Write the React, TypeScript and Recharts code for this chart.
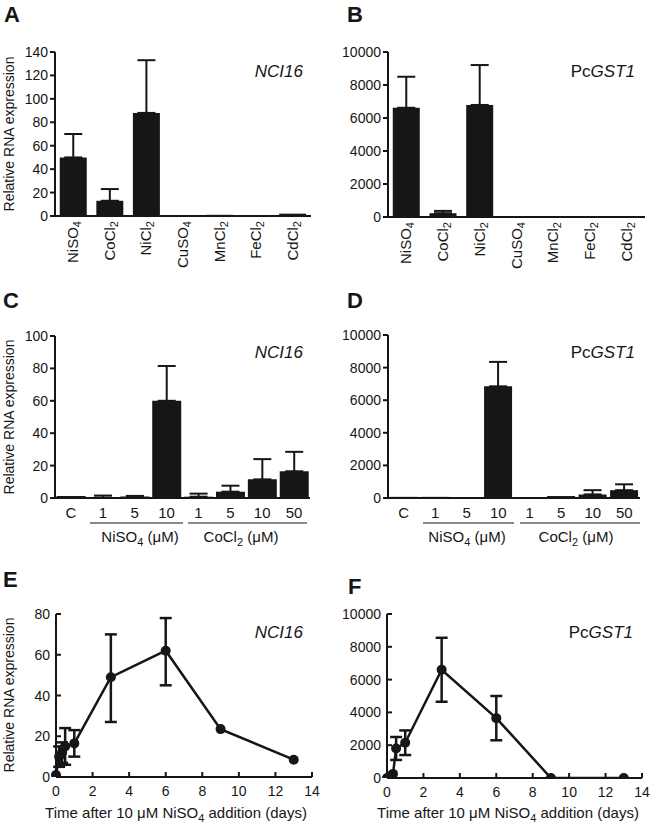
import React from 'react';
import { BarChart, Bar, LineChart, Line, XAxis, YAxis, ErrorBar } from 'recharts';

const FONT = '"Liberation Sans", Arial, Helvetica, sans-serif';
const INK = '#161616';
const AXIS = { stroke: INK, strokeWidth: 2 };

// A / B: metal salts
const metals = ['NiSO4', 'CoCl2', 'NiCl2', 'CuSO4', 'MnCl2', 'FeCl2', 'CdCl2'];
const metalNci16 = [50, 13, 88, 0.6, 1, 0.6, 2];
const metalNci16Up = [20, 10, 45, null, null, null, null];
const metalGst1 = [6620, 230, 6790, 0, 0, 0, 0];
const metalGst1Up = [1880, 140, 2420, null, null, null, null];

// C / D: concentrations
const doseKeys = ['C', 'Ni1', 'Ni5', 'Ni10', 'Co1', 'Co5', 'Co10', 'Co50'];
const doseLabels = ['C', '1', '5', '10', '1', '5', '10', '50'];
const doseNci16 = [1.2, 0.2, 0.9, 60, 0.8, 3.9, 11.5, 16.5];
const doseNci16Up = [null, 1.3, 0.4, 21.5, 1.9, 3.7, 12.5, 12];
const doseGst1 = [70, 70, 0, 6850, 0, 120, 220, 480];
const doseGst1Up = [null, null, 150, 1500, 160, null, 260, 360];

// E / F: time course (days)
const days = [0, 0.17, 0.33, 0.5, 1, 3, 6, 9, 13];
const timeNci16 = [1, 10, 12, 15, 16.5, 49, 62, 23.5, 8.5];
const timeNci16Lo = [null, 5, 5, 9, 6.5, 22, 17, null, null];
const timeNci16Hi = [null, 5, 5, 9, 6.5, 21, 16, null, null];
const timeGst1 = [0, 100, 250, 1800, 2150, 6600, 3650, 0, 0];
const timeGst1Err = [null, null, null, 700, 750, 1950, 1350, null, null];

const ticks140 = [0, 20, 40, 60, 80, 100, 120, 140];
const ticks100 = [0, 20, 40, 60, 80, 100];
const ticks80 = [0, 20, 40, 60, 80];
const ticks10k = [0, 2000, 4000, 6000, 8000, 10000];
const dayTicks = [0, 2, 4, 6, 8, 10, 12, 14];

function splitChem(s: string): [string, string] {
  const m = s.match(/^(.*?)(\d+)$/);
  return m ? [m[1], m[2]] : [s, ''];
}

const MetalTick = (props: any) => {
  const { x, y, payload } = props;
  const [base, sub] = splitChem(payload.value);
  return (
    <g transform={`translate(${x},${y})`}>
      <text transform="rotate(-90)" x={-5} y={0} dy={5} textAnchor="end" fontSize={15} fill={INK} fontFamily={FONT}>
        {base}
        <tspan fontSize={11} dy={3}>{sub}</tspan>
      </text>
    </g>
  );
};

const DoseTick = (props: any) => {
  const { x, y, index } = props;
  return (
    <text x={x} y={y + 9} dy={11} textAnchor="middle" fontSize={15} fill={INK} fontFamily={FONT}>
      {doseLabels[index]}
    </text>
  );
};

const InXTick = (props: any) => {
  const { x, y, payload } = props;
  return (
    <g>
      <line x1={x} x2={x} y1={y} y2={y - 5} stroke={INK} strokeWidth={2} />
      <text x={x} y={y + 8} dy={10.5} textAnchor="middle" fontSize={14} fill={INK} fontFamily={FONT}>
        {payload.value}
      </text>
    </g>
  );
};

const InYTick = (props: any) => {
  const { x, y, payload } = props;
  return (
    <g>
      <line x1={x} x2={x + 5} y1={y} y2={y} stroke={INK} strokeWidth={2} />
      <text x={x - 6} y={y} dy={5} textAnchor="end" fontSize={14} fill={INK} fontFamily={FONT}>
        {payload.value}
      </text>
    </g>
  );
};

type Box = [number, number, number, number]; // left, top, right, bottom (page px)

function BarPanel(props: {
  x0: number; y0: number; w: number; h: number; box: Box;
  keys: string[]; values: number[]; ups: (number | null)[];
  yMax: number; yTicks: number[]; tick: any; gap: string;
}) {
  const { x0, y0, w, h, box, keys, values, ups, yMax, yTicks, tick, gap } = props;
  const [pl, pt, pr, pb] = box;
  const data = keys.map((k, i) => ({ name: k, value: values[i], err: ups[i] == null ? null : [0, ups[i]] }));
  return (
    <div style={{ position: 'absolute', left: x0, top: y0 }}>
      <BarChart width={w} height={h} data={data} barCategoryGap={gap}
        margin={{ top: pt - y0, right: x0 + w - pr, bottom: 0, left: 0 }}>
        <XAxis dataKey="name" height={y0 + h - pb} interval={0} tickLine={false} tickSize={0} tickMargin={0}
          tick={tick} axisLine={AXIS} />
        <XAxis xAxisId="top" orientation="top" dataKey="name" height={0} tick={false} tickLine={false} axisLine={AXIS} />
        <YAxis width={pl - x0} domain={[0, yMax]} ticks={yTicks} allowDataOverflow interval={0}
          tickSize={5} tickMargin={2} tickLine={{ stroke: INK, strokeWidth: 2 }} axisLine={AXIS}
          tick={{ fontSize: 14, fill: INK, fontFamily: FONT }} />
        <YAxis yAxisId="right" orientation="right" width={0} tick={false} tickLine={false} axisLine={AXIS} />
        <Bar dataKey="value" fill={INK} isAnimationActive={false}>
          <ErrorBar dataKey="err" direction="y" width={9} strokeWidth={2} stroke={INK} />
        </Bar>
      </BarChart>
    </div>
  );
}

function TimePanel(props: {
  x0: number; y0: number; w: number; h: number; box: Box;
  values: number[]; lo: (number | null)[]; hi: (number | null)[];
  yMax: number; yTicks: number[];
}) {
  const { x0, y0, w, h, box, values, lo, hi, yMax, yTicks } = props;
  const [pl, pt, pr, pb] = box;
  const data = days.map((t, i) => ({ t, v: values[i], err: lo[i] == null ? null : [lo[i], hi[i]] }));
  return (
    <div style={{ position: 'absolute', left: x0, top: y0 }}>
      <LineChart width={w} height={h} data={data}
        margin={{ top: pt - y0, right: x0 + w - pr, bottom: 0, left: 0 }}>
        <XAxis dataKey="t" type="number" domain={[0, 14]} ticks={dayTicks} interval={0} height={y0 + h - pb}
          tickLine={false} tickSize={0} tickMargin={0} tick={<InXTick />} axisLine={AXIS} />
        <XAxis xAxisId="top" orientation="top" dataKey="t" type="number" domain={[0, 14]} height={0}
          tick={false} tickLine={false} axisLine={AXIS} />
        <YAxis width={pl - x0} domain={[0, yMax]} ticks={yTicks} interval={0} allowDataOverflow
          tickLine={false} tickSize={0} tickMargin={0} tick={<InYTick />} axisLine={AXIS} />
        <YAxis yAxisId="right" orientation="right" width={0} tick={false} tickLine={false} axisLine={AXIS} />
        <Line dataKey="v" stroke={INK} strokeWidth={2.5} isAnimationActive={false}
          dot={{ r: 5, fill: INK, stroke: INK, strokeWidth: 0 }}>
          <ErrorBar dataKey="err" direction="y" width={6} strokeWidth={2.5} stroke={INK} />
        </Line>
      </LineChart>
    </div>
  );
}

const YTitle = ({ x, y }: { x: number; y: number }) => (
  <text transform={`translate(${x},${y}) rotate(-90)`} y={5} textAnchor="middle" fontSize={14} fill={INK}>
    Relative RNA expression
  </text>
);

const Nci16 = ({ x, y }: { x: number; y: number }) => (
  <text x={x} y={y} textAnchor="end" fontSize={17} fontStyle="italic" fill={INK}>NCI16</text>
);

const PcGst1 = ({ x, y }: { x: number; y: number }) => (
  <text x={x} y={y} textAnchor="end" fontSize={17} fill={INK}>
    Pc<tspan fontStyle="italic">GST1</tspan>
  </text>
);

const Letter = ({ x, y, c }: { x: number; y: number; c: string }) => (
  <text x={x} y={y} fontSize={22} fontWeight="bold" fill={INK}>{c}</text>
);

const Group = ({ x1, x2, y, chem, cx }: { x1: number; x2: number; y: number; chem: string; cx: number }) => {
  const [base, sub] = splitChem(chem);
  return (
    <g>
      <line x1={x1} x2={x2} y1={y} y2={y} stroke={INK} strokeWidth={1.2} />
      <text x={cx} y={y + 19} textAnchor="middle" fontSize={15} fill={INK}>
        {base}
        <tspan fontSize={11} dy={4}>{sub}</tspan>
        <tspan dy={-4}> (μM)</tspan>
      </text>
    </g>
  );
};

const TimeTitle = ({ cx, y }: { cx: number; y: number }) => (
  <text x={cx} y={y} textAnchor="middle" fontSize={15} fill={INK}>
    Time after 10 μM NiSO<tspan fontSize={11} dy={4}>4</tspan>
    <tspan dy={-4}> addition (days)</tspan>
  </text>
);

export default function App() {
  return (
    <div style={{ position: 'absolute', left: 0, top: 0, width: 650, height: 827, background: '#fff', fontFamily: FONT }}>
      <BarPanel x0={0} y0={0} w={325} h={275} box={[55, 52, 311, 216]} keys={metals} values={metalNci16}
        ups={metalNci16Up} yMax={140} yTicks={ticks140} tick={<MetalTick />} gap="13%" />
      <BarPanel x0={325} y0={0} w={325} h={275} box={[388, 52, 645, 217]} keys={metals} values={metalGst1}
        ups={metalGst1Up} yMax={10000} yTicks={ticks10k} tick={<MetalTick />} gap="13%" />
      <BarPanel x0={0} y0={275} w={325} h={280} box={[55, 336, 310, 498]} keys={doseKeys} values={doseNci16}
        ups={doseNci16Up} yMax={100} yTicks={ticks100} tick={<DoseTick />} gap="5%" />
      <BarPanel x0={325} y0={275} w={325} h={280} box={[388, 335, 640, 498]} keys={doseKeys} values={doseGst1}
        ups={doseGst1Up} yMax={10000} yTicks={ticks10k} tick={<DoseTick />} gap="5%" />
      <TimePanel x0={0} y0={555} w={325} h={272} box={[56, 614, 312, 777]} values={timeNci16}
        lo={timeNci16Lo} hi={timeNci16Hi} yMax={80} yTicks={ticks80} />
      <TimePanel x0={325} y0={555} w={325} h={272} box={[387, 614, 642, 778]} values={timeGst1}
        lo={timeGst1Err} hi={timeGst1Err} yMax={10000} yTicks={ticks10k} />

      <svg width={650} height={827} style={{ position: 'absolute', left: 0, top: 0, pointerEvents: 'none' }}
        fontFamily={FONT}>
        <Letter x={4} y={22} c="A" />
        <Letter x={347} y={22} c="B" />
        <Letter x={3} y={308} c="C" />
        <Letter x={347} y={308} c="D" />
        <Letter x={3} y={587} c="E" />
        <Letter x={348} y={594} c="F" />

        <YTitle x={9} y={134} />
        <YTitle x={9} y={417} />
        <YTitle x={9} y={695} />

        <Nci16 x={303} y={77} />
        <PcGst1 x={635} y={77} />
        <Nci16 x={303} y={358} />
        <PcGst1 x={635} y={358} />
        <Nci16 x={303} y={638} />
        <PcGst1 x={633} y={638} />

        <Group x1={90} x2={183} y={523} chem="NiSO4" cx={140} />
        <Group x1={188} x2={307} y={523} chem="CoCl2" cx={241} />
        <Group x1={423} x2={514} y={523} chem="NiSO4" cx={467} />
        <Group x1={520} x2={640} y={523} chem="CoCl2" cx={576} />

        <TimeTitle cx={176} y={818} />
        <TimeTitle cx={508} y={818} />
      </svg>
    </div>
  );
}
